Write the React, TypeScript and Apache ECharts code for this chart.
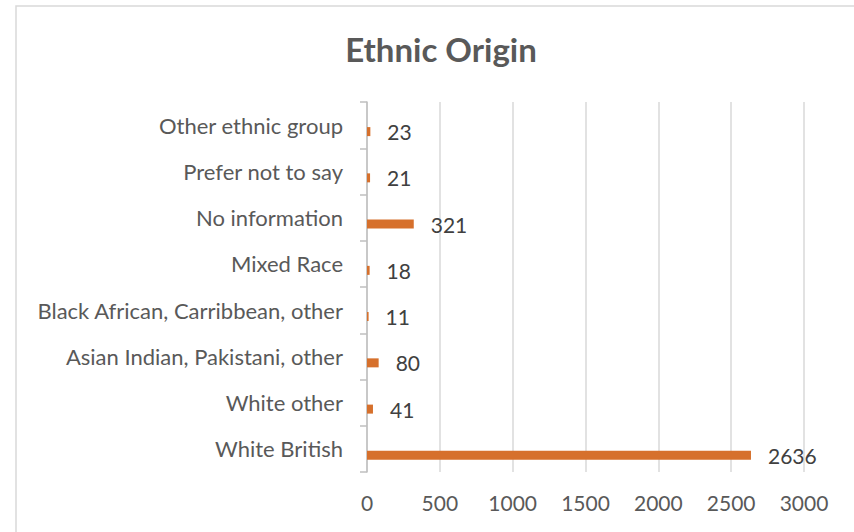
import React, { useEffect, useRef } from "react";
import * as echarts from "echarts";

const categories = [
  "White British",
  "White other",
  "Asian Indian, Pakistani, other",
  "Black African, Carribbean, other",
  "Mixed Race",
  "No information",
  "Prefer not to say",
  "Other ethnic group",
];
const values = [2636, 41, 80, 11, 18, 321, 21, 23];
const emptySeries = categories.map(() => null);
const xTicks = { min: 0, max: 3000, interval: 500 };

export default function App() {
  const ref = useRef<HTMLDivElement>(null);
  useEffect(() => {
    document.body.style.margin = "0";
    const chart = echarts.init(ref.current!, null, { renderer: "svg" });
    const font = "Lato, 'Open Sans', sans-serif";
    chart.setOption({
      animation: false,
      backgroundColor: "#ffffff",
      graphic: [
        {
          type: "rect",
          shape: { x: 16, y: 6, width: 860, height: 560 },
          style: { fill: "none", stroke: "#d9d9d9", lineWidth: 1.5 },
          silent: true,
        },
      ],
      title: {
        text: "Ethnic Origin",
        left: 436,
        textAlign: "center",
        top: 27,
        textStyle: { fontFamily: font, fontSize: 33, fontWeight: "bold", color: "#595959" },
      },
      grid: { left: 367, right: 50, top: 102, bottom: 60, containLabel: false },
      xAxis: {
        type: "value",
        min: xTicks.min,
        max: xTicks.max,
        interval: xTicks.interval,
        axisLine: { show: false },
        axisTick: { show: false },
        axisLabel: {
          fontFamily: font,
          fontSize: 21,
          color: "#595959",
          margin: 20,
          formatter: (v: number) => String(v),
        },
        splitLine: { show: true, lineStyle: { color: "#d9d9d9", width: 1.5 } },
      },
      yAxis: {
        type: "category",
        data: categories,
        axisLine: { show: true, lineStyle: { color: "#bfbfbf", width: 1.5 } },
        axisTick: { show: true, length: 7, lineStyle: { color: "#bfbfbf", width: 1.5 } },
        axisLabel: { fontFamily: font, fontSize: 22, color: "#595959", margin: 24 },
      },
      series: [
        {
          type: "bar",
          name: "spacer",
          data: emptySeries,
          barWidth: 9,
          barGap: "44%",
          itemStyle: { color: "transparent" },
        },
        {
          type: "bar",
          name: "Ethnic Origin",
          data: values,
          barWidth: 9,
          barGap: "44%",
          itemStyle: { color: "#D6702C" },
          label: {
            show: true,
            position: "right",
            distance: 17,
            fontFamily: font,
            fontSize: 21,
            color: "#404040",
          },
        },
      ],
    });
    return () => chart.dispose();
  }, []);
  return <div ref={ref} style={{ width: 854, height: 532 }} />;
}
